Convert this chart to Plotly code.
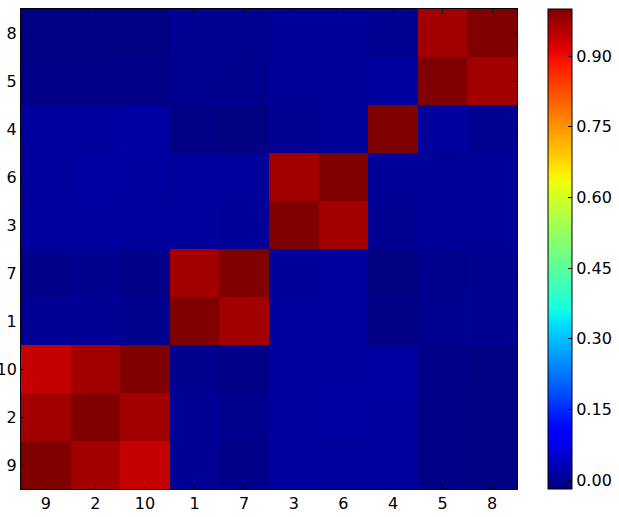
import numpy as np
import plotly.graph_objects as go

labels = ["9", "2", "10", "1", "7", "3", "6", "4", "5", "8"]

# rows listed bottom-to-top, columns left-to-right (same order as labels)
row_9  = [1.000, 0.970, 0.940, 0.000, -0.009, 0.008, 0.006, 0.007, -0.013, -0.015]
row_2  = [0.970, 1.000, 0.970, 0.001, -0.007, 0.008, 0.009, 0.007, -0.013, -0.015]
row_10 = [0.940, 0.970, 1.000, -0.006, -0.012, 0.007, 0.008, 0.011, -0.014, -0.016]
row_1  = [0.000, 0.001, -0.006, 1.000, 0.970, 0.004, 0.004, -0.015, -0.005, -0.003]
row_7  = [-0.009, -0.007, -0.012, 0.970, 1.000, 0.003, 0.004, -0.019, -0.006, -0.004]
row_3  = [0.008, 0.008, 0.007, 0.004, 0.003, 1.000, 0.970, -0.002, 0.003, 0.002]
row_6  = [0.006, 0.009, 0.008, 0.004, 0.004, 0.970, 1.000, 0.003, 0.003, 0.002]
row_4  = [0.007, 0.007, 0.011, -0.015, -0.019, -0.002, 0.003, 1.000, 0.007, -0.004]
row_5  = [-0.013, -0.013, -0.014, -0.005, -0.006, 0.003, 0.003, 0.007, 1.000, 0.970]
row_8  = [-0.015, -0.015, -0.016, -0.003, -0.004, 0.002, 0.002, -0.004, 0.970, 1.000]

z = [row_9, row_2, row_10, row_1, row_7, row_3, row_6, row_4, row_5, row_8]

cbar_ticks = [0.00, 0.15, 0.30, 0.45, 0.60, 0.75, 0.90]
zmin, zmax = -0.019, 1.0

# matplotlib "jet" colormap
_r = [(0, 0), (0.35, 0), (0.66, 1), (0.89, 1), (1, 0.5)]
_g = [(0, 0), (0.125, 0), (0.375, 1), (0.64, 1), (0.91, 0), (1, 0)]
_b = [(0, 0.5), (0.11, 1), (0.34, 1), (0.65, 0), (1, 0)]


def _interp(seg, t):
    xs = [p[0] for p in seg]
    ys = [p[1] for p in seg]
    return float(np.interp(t, xs, ys))


jet = []
for t in np.linspace(0, 1, 65):
    r, g, b = (_interp(s, t) for s in (_r, _g, _b))
    jet.append([float(t), f"rgb({round(r*255)},{round(g*255)},{round(b*255)})"])

W, H = 619, 517
L, R, T, B = 21, 47, 9, 28
pw = W - L - R
x_end = (517 - L) / pw
cb_x = (548 - L) / pw

fig = go.Figure(
    go.Heatmap(
        z=z,
        x=labels,
        y=labels,
        colorscale=jet,
        zmin=zmin,
        zmax=zmax,
        colorbar=dict(
            x=cb_x,
            xanchor="left",
            xpad=0,
            ypad=0,
            y=0.5,
            yanchor="middle",
            len=1,
            lenmode="fraction",
            thickness=24,
            thicknessmode="pixels",
            outlinecolor="black",
            outlinewidth=1,
            tickmode="array",
            tickvals=cbar_ticks,
            ticktext=[f"{v:.2f}" for v in cbar_ticks],
            ticks="inside",
            ticklen=4,
            tickcolor="black",
            tickfont=dict(family="DejaVu Sans", size=16, color="black"),
        ),
    )
)

axis_common = dict(
    type="category",
    automargin=False,
    showline=True,
    linecolor="black",
    linewidth=1,
    mirror="ticks",
    ticks="inside",
    ticklen=4,
    tickcolor="black",
    showgrid=False,
    zeroline=False,
    tickfont=dict(family="DejaVu Sans", size=16, color="black"),
)

fig.update_layout(
    width=W,
    height=H,
    margin=dict(l=L, r=R, t=T, b=B, autoexpand=False),
    paper_bgcolor="white",
    plot_bgcolor="white",
    xaxis=dict(domain=[0, x_end], **axis_common),
    yaxis=dict(**axis_common),
)

fig.write_html(
    "out.html",
    config={"displayModeBar": False},
    post_script="document.body.style.margin='0';document.body.style.padding='0';",
)
